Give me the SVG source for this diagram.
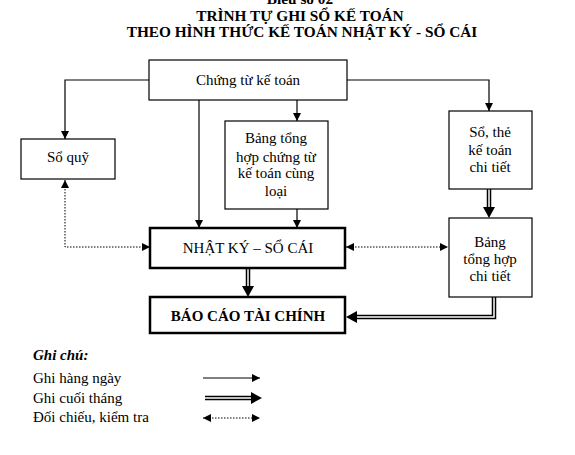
<svg xmlns="http://www.w3.org/2000/svg" width="575" height="455" viewBox="0 0 575 455">
<defs>
<style>
text{font-family:"Liberation Serif","Times New Roman",serif;fill:#000}
.t{font-size:15.3px;font-weight:bold;text-anchor:middle}
.n{font-size:15px;text-anchor:middle}
.l{font-size:15px}
.box{fill:#fff;stroke:#000;stroke-width:1.2}
.bold{fill:#fff;stroke:#000;stroke-width:2.5}
.ln{fill:none;stroke:#000;stroke-width:1.2}
.dt{fill:none;stroke:#000;stroke-width:1;stroke-dasharray:1.5 1.5}
.dbo{fill:none;stroke:#000;stroke-width:4.5}
.dbi{fill:none;stroke:#fff;stroke-width:1.5}
</style>
<marker id="a" viewBox="0 0 10 10" refX="10" refY="5" markerWidth="8" markerHeight="8" markerUnits="userSpaceOnUse" orient="auto-start-reverse"><path d="M0,0L10,5L0,10Z" fill="#000"/></marker>
</defs>
<g id="title">
<text class="t" x="300" y="4">Biểu số 02</text>
<text class="t" x="300" y="21">TRÌNH TỰ GHI SỔ KẾ TOÁN</text>
<text class="t" x="302" y="37">THEO HÌNH THỨC KẾ TOÁN NHẬT KÝ - SỔ CÁI</text>
</g>
<g id="connectors">
<path class="ln" d="M149,80H65V139" marker-end="url(#a)"/>
<path class="ln" d="M347,80H489V111" marker-end="url(#a)"/>
<path class="ln" d="M297,100V121" marker-end="url(#a)"/>
<path class="ln" d="M199,100V228" marker-end="url(#a)"/>
<path class="ln" d="M297,209V228" marker-end="url(#a)"/>
<path class="dt" d="M65,180V247H150" marker-start="url(#a)" marker-end="url(#a)"/>
<path class="dt" d="M346,247H448" marker-start="url(#a)" marker-end="url(#a)"/>
<path class="dbo" d="M489,189V208"/><path class="dbi" d="M489,189V209"/>
<path d="M483,207L495,207L489,218Z" fill="#000"/>
<path class="dbo" d="M248,268V287"/><path class="dbi" d="M248,268V288"/>
<path d="M242,286L254,286L248,297Z" fill="#000"/>
<path class="dbo" d="M494,297V317H356"/><path class="dbi" d="M494,297V317H355"/>
<path d="M357,311L357,323L346,317Z" fill="#000"/>
</g>
<g id="chung-tu">
<rect class="box" x="149" y="60" width="198" height="40"/>
<text class="n" x="248" y="85">Chứng từ kế toán</text>
</g>
<g id="so-quy">
<rect class="box" x="21" y="139" width="94" height="40"/>
<text class="n" x="68" y="162">Sổ quỹ</text>
</g>
<g id="bang-tong-hop-chung-tu">
<rect class="box" x="225" y="121" width="103" height="88"/>
<text class="n" x="276" y="143">Bảng tổng</text>
<text class="n" x="276" y="162">hợp chứng từ</text>
<text class="n" x="276" y="178">kế toán cùng</text>
<text class="n" x="276" y="196">loại</text>
</g>
<g id="so-the">
<rect class="box" x="449" y="111" width="83" height="78"/>
<text class="n" x="490" y="137">Sổ, thẻ</text>
<text class="n" x="490" y="155">kế toán</text>
<text class="n" x="490" y="172">chi tiết</text>
</g>
<g id="nhat-ky">
<rect class="bold" x="150" y="228" width="195" height="40"/>
<text class="n" x="248" y="253">NHẬT KÝ – SỔ CÁI</text>
</g>
<g id="bang-tong-hop-chi-tiet">
<rect class="box" x="449" y="218" width="83" height="79"/>
<text class="n" x="490" y="247">Bảng</text>
<text class="n" x="490" y="264">tổng hợp</text>
<text class="n" x="490" y="281">chi tiết</text>
</g>
<g id="bao-cao">
<rect class="bold" x="150" y="297" width="195" height="36"/>
<text class="n" x="248" y="321" font-weight="bold">BÁO CÁO TÀI CHÍNH</text>
</g>
<g id="legend">
<text class="l" x="33" y="360" font-weight="bold" font-style="italic">Ghi chú:</text>
<text class="l" x="33" y="383">Ghi hàng ngày</text>
<text class="l" x="33" y="403">Ghi cuối tháng</text>
<text class="l" x="33" y="422">Đối chiếu, kiểm tra</text>
<path class="ln" d="M203,378H260" marker-end="url(#a)"/>
<path class="dbo" d="M205,398H252"/><path class="dbi" d="M205,398H253"/>
<path d="M251,392L251,404L262,398Z" fill="#000"/>
<path class="dt" d="M203,418H260" marker-start="url(#a)" marker-end="url(#a)"/>
</g>
</svg>
